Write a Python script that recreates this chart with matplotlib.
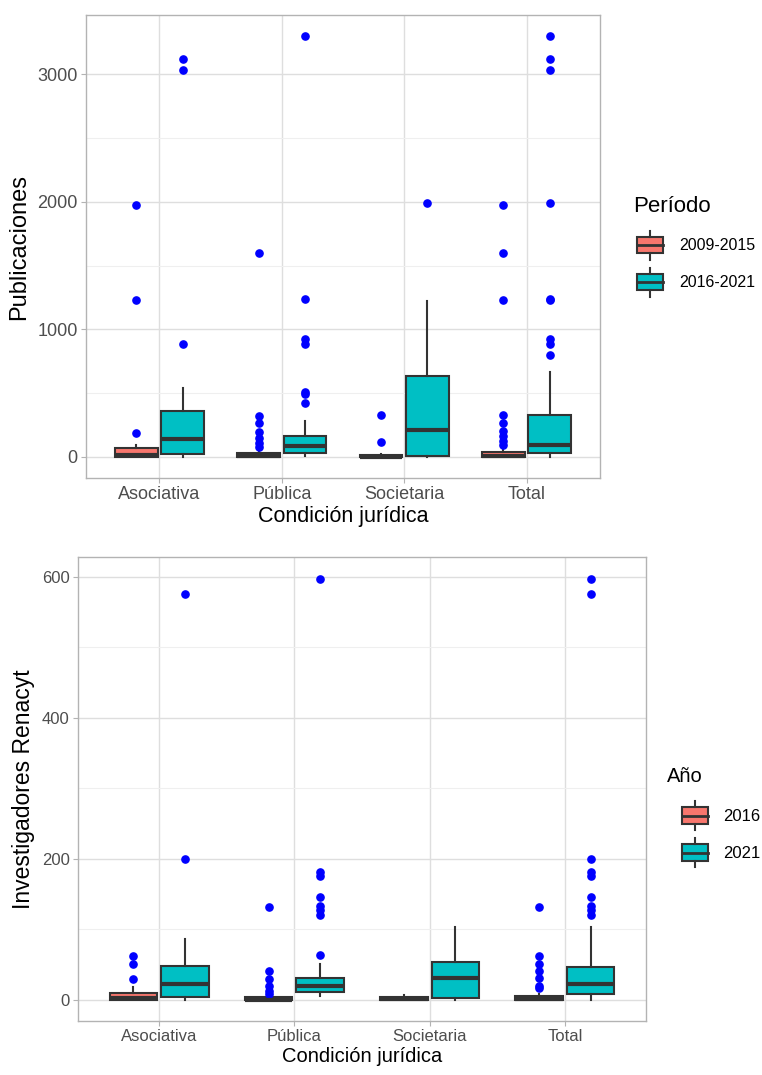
import matplotlib
matplotlib.use("Agg")
import matplotlib.pyplot as plt
from matplotlib.patches import Rectangle
from matplotlib.lines import Line2D
from matplotlib.legend_handler import HandlerBase

plt.rcParams['font.family'] = ['Liberation Sans', 'DejaVu Sans']

categories = ["Asociativa", "Pública", "Societaria", "Total"]

# Publicaciones por periodo
pub_periods = ["2009-2015", "2016-2021"]
pub_q1_a = [0, 0, 0, 0]
pub_med_a = [13, 5, 3, 5]
pub_q3_a = [71, 32, 18, 39]
pub_lo_a = [0, 0, 0, 0]
pub_hi_a = [95, 45, 26, 74]
pub_fl_a = [[184, 1229, 1979],
            [76, 110, 150, 195, 268, 321, 1599],
            [118, 326],
            [92, 126, 163, 205, 268, 332, 1229, 1599, 1979]]
pub_q1_b = [26, 32, 8, 32]
pub_med_b = [142, 84, 213, 97]
pub_q3_b = [358, 166, 632, 326]
pub_lo_b = [0, 8, 0, 0]
pub_hi_b = [539, 282, 1219, 663]
pub_fl_b = [[887, 3036, 3120],
            [424, 492, 513, 885, 922, 1240, 3297],
            [1990],
            [797, 887, 922, 1229, 1240, 1990, 3036, 3120, 3297]]

# Investigadores Renacyt por año
inv_years = ["2016", "2021"]
inv_q1_a = [0, 0, 0, 0]
inv_med_a = [3, 0.5, 1, 1]
inv_q3_a = [9.4, 3.8, 4.7, 5.2]
inv_lo_a = [0, 0, 0, 0]
inv_hi_a = [17.9, 5, 7.5, 8.5]
inv_fl_a = [[29.7, 50.9, 62.7],
            [8.5, 13.2, 19.8, 30.2, 41.5, 131.8],
            [],
            [16.5, 20.3, 30.7, 41, 50.9, 62.7, 132]]
inv_q1_b = [4.7, 10.8, 2.8, 8.5]
inv_med_b = [22.6, 20.3, 31.1, 22.2]
inv_q3_b = [48.6, 31.1, 53.8, 46.2]
inv_lo_b = [0, 5.7, 0, 0]
inv_hi_b = [86.3, 50.9, 102.8, 102.8]
inv_fl_b = [[200, 575],
            [64, 121, 127.5, 133, 146, 175, 182, 597],
            [],
            [121, 127.5, 133, 146, 175, 182, 200, 575, 597]]

RED = "#F8766D"
TEAL = "#00BFC4"
EDGE = "#333333"
GRID = "#DEDEDE"
BORDER = "#B3B3B3"
TXT = "#4D4D4D"


def make_stats(q1, med, q3, lo, hi, fl):
    return [dict(q1=q1[i], med=med[i], q3=q3[i], whislo=lo[i], whishi=hi[i], fliers=fl[i])
            for i in range(len(q1))]


class BoxHandler(HandlerBase):
    def create_artists(self, legend, orig_handle, xdescent, ydescent, width, height, fontsize, trans):
        x0, y0 = -xdescent, -ydescent
        h = height
        cx = x0 + width / 2
        fc = orig_handle.get_facecolor()
        r = Rectangle((x0, y0 + h * 0.22), width, h * 0.56, facecolor=fc,
                      edgecolor=EDGE, lw=1.5, transform=trans)
        m = Line2D([x0, x0 + width], [y0 + h / 2] * 2, color=EDGE, lw=2.0, transform=trans)
        w1 = Line2D([cx, cx], [y0, y0 + h * 0.22], color=EDGE, lw=1.5, transform=trans)
        w2 = Line2D([cx, cx], [y0 + h * 0.78, y0 + h], color=EDGE, lw=1.5, transform=trans)
        return [r, m, w1, w2]


def draw_panel(ax, stats_a, stats_b, ylabel, ymax, yticks, yminor, tsize, lsize, ysize):
    pos = list(range(1, len(categories) + 1))
    common = dict(widths=0.35, patch_artist=True, showcaps=False,
                  whiskerprops=dict(color=EDGE, lw=1.5),
                  medianprops=dict(color=EDGE, lw=3.0, solid_capstyle='butt'),
                  flierprops=dict(marker='o', markerfacecolor='blue', markeredgecolor='blue',
                                  markersize=5.2, linestyle='none'))
    ax.bxp(stats_a, positions=[p - 0.19 for p in pos],
           boxprops=dict(facecolor=RED, edgecolor=EDGE, lw=1.5), **common)
    ax.bxp(stats_b, positions=[p + 0.19 for p in pos],
           boxprops=dict(facecolor=TEAL, edgecolor=EDGE, lw=1.5), **common)
    ax.set_xlim(0.4, len(categories) + 0.6)
    ax.set_ylim(-0.05 * ymax, 1.05 * ymax)
    ax.set_xticks(pos)
    ax.set_xticklabels(categories)
    ax.set_yticks(yticks)
    ax.set_yticks(yminor, minor=True)
    ax.set_axisbelow(True)
    ax.grid(True, which='major', color=GRID, lw=1.0)
    ax.grid(True, which='minor', axis='y', color='#EFEFEF', lw=0.8)
    for s in ax.spines.values():
        s.set_color(BORDER)
        s.set_linewidth(1.0)
    ax.tick_params(which='major', length=3.5, color=BORDER, labelcolor=TXT, labelsize=tsize,
                   width=0.8, pad=2.5)
    ax.tick_params(which='minor', length=0)
    ax.set_xlabel("Condición jurídica", fontsize=lsize, labelpad=2)
    ax.set_ylabel(ylabel, fontsize=ysize, labelpad=5)


fig = plt.figure(figsize=(7.62, 10.75), dpi=100)

ax1 = fig.add_axes([86 / 762, 1 - 478 / 1075, 514 / 762, 463 / 1075])
draw_panel(ax1,
           make_stats(pub_q1_a, pub_med_a, pub_q3_a, pub_lo_a, pub_hi_a, pub_fl_a),
           make_stats(pub_q1_b, pub_med_b, pub_q3_b, pub_lo_b, pub_hi_b, pub_fl_b),
           "Publicaciones", 3300, [0, 1000, 2000, 3000], [500, 1500, 2500], 13, 15.5, 17)

ax2 = fig.add_axes([78 / 762, 1 - 1021 / 1075, 568 / 762, 464 / 1075])
draw_panel(ax2,
           make_stats(inv_q1_a, inv_med_a, inv_q3_a, inv_lo_a, inv_hi_a, inv_fl_a),
           make_stats(inv_q1_b, inv_med_b, inv_q3_b, inv_lo_b, inv_hi_b, inv_fl_b),
           "Investigadores Renacyt", 598, [0, 200, 400, 600], [100, 300, 500], 12, 14.5, 16.5)

# legends: title as text, keys as legend (sizes in pixels)
KEY_W, KEY_H, ROW = 26, 29, 37
legend_specs = [(pub_periods, "Período", 633, 207, 637, 263.5, 16, 11.5, 16),
                (inv_years, "Año", 667, 776, 682, 834, 14.5, 12, 15)]
for labs, title, tx, ty, kx, ky, tfs, lfs, pad in legend_specs:
    fig.text(tx / 762, 1 - ty / 1075, title, fontsize=tfs, ha='left', va='center')
    fpx = lfs * 100 / 72
    hh = (KEY_H / fpx - 0.245) / 0.65
    handles = [Rectangle((0, 0), 1, 1, facecolor=RED), Rectangle((0, 0), 1, 1, facecolor=TEAL)]
    fig.legend(handles, labs, loc='center left', bbox_to_anchor=(kx / 762, 1 - ky / 1075),
               frameon=False, fontsize=lfs, borderpad=0, borderaxespad=0,
               handler_map={Rectangle: BoxHandler()},
               handlelength=KEY_W / fpx, handleheight=hh,
               labelspacing=(ROW - KEY_H) / fpx,
               handletextpad=pad / fpx)

fig.savefig("out.png", dpi=100)
